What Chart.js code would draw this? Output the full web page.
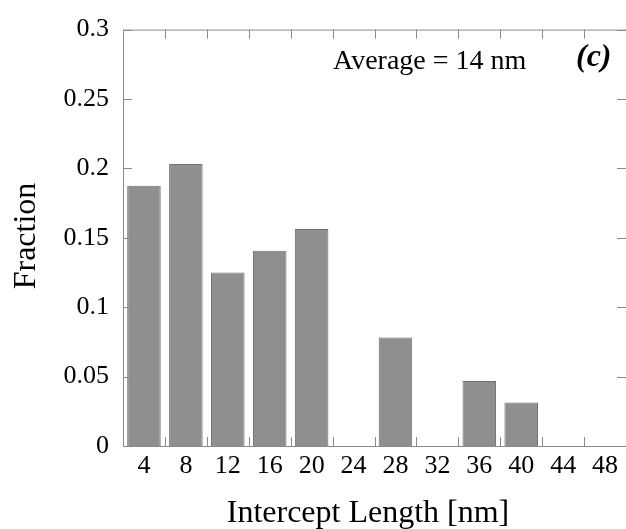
<!DOCTYPE html>
<html>
<head>
<meta charset="utf-8">
<script src="https://cdn.jsdelivr.net/npm/chart.js@4"></script>
<style>
  body { margin: 0; background: #fff; }
  #wrap { width: 626px; height: 529px; }
</style>
</head>
<body>
<div id="wrap"><canvas id="histChart" width="626" height="529"></canvas></div>
<script>
// Intercept length bins (nm) and fraction in each bin
const lengthLabels = ['4', '8', '12', '16', '20', '24', '28', '32', '36', '40', '44', '48'];
const fractions = [0.1875, 0.2031, 0.125, 0.1406, 0.1563, 0, 0.0781, 0, 0.0469, 0.0313, 0, 0];
const yTickValues = [0, 0.05, 0.1, 0.15, 0.2, 0.25, 0.3];

const serif = "'Liberation Serif', 'Times New Roman', serif";
const axisGray = '#8a8a8a';

// frame with inward ticks (the right edge sits just past the canvas), plus the text labels
const framePlugin = {
    id: 'frame',
    afterDatasetsDraw(chart) {
        const ctx = chart.ctx;
        const area = chart.chartArea;
        const x = chart.scales.x;
        const y = chart.scales.y;
        const tickLen = 9;
        ctx.save();
        ctx.strokeStyle = axisGray;
        ctx.lineWidth = 1;
        ctx.beginPath();
        // outline: top, left, bottom
        ctx.moveTo(area.left + 0.5, area.top + 0.5);
        ctx.lineTo(area.right, area.top + 0.5);
        ctx.moveTo(area.left + 0.5, area.top);
        ctx.lineTo(area.left + 0.5, area.bottom + 0.5);
        ctx.lineTo(area.right, area.bottom + 0.5);
        // x ticks at bin boundaries
        for (let i = 1; i < lengthLabels.length; i++) {
            const px = Math.round((x.getPixelForValue(i - 1) + x.getPixelForValue(i)) / 2) + 0.5;
            ctx.moveTo(px, area.bottom);
            ctx.lineTo(px, area.bottom - tickLen);
            ctx.moveTo(px, area.top);
            ctx.lineTo(px, area.top + tickLen);
        }
        // y ticks
        yTickValues.forEach(v => {
            const py = Math.round(y.getPixelForValue(v)) + 0.5;
            ctx.moveTo(area.left, py);
            ctx.lineTo(area.left + tickLen, py);
            ctx.moveTo(area.right, py);
            ctx.lineTo(area.right - tickLen, py);
        });
        ctx.stroke();

        // axis titles and annotation
        ctx.fillStyle = '#000';
        ctx.font = '32px ' + serif;
        ctx.textAlign = 'center';
        ctx.textBaseline = 'alphabetic';
        ctx.fillText('Intercept Length [nm]', 368, 522);
        ctx.save();
        ctx.translate(35, 236);
        ctx.rotate(-Math.PI / 2);
        ctx.fillText('Fraction', 0, 0);
        ctx.restore();

        ctx.textAlign = 'left';
        ctx.font = '28px ' + serif;
        ctx.fillText('Average = 14 nm', 333, 69);
        ctx.font = 'italic bold 32px ' + serif;
        ctx.fillText('(c)', 576, 66);
        ctx.restore();
    }
};

const ctx = document.getElementById('histChart').getContext('2d');
new Chart(ctx, {
    type: 'bar',
    data: {
        labels: lengthLabels,
        datasets: [{
            data: fractions,
            backgroundColor: '#8f8f8f',
            borderColor: '#6f6f6f',
            borderWidth: 1,
            borderSkipped: 'bottom',
            categoryPercentage: 1.0,
            barPercentage: 0.8
        }]
    },
    options: {
        responsive: false,
        animation: false,
        events: [],
        layout: { padding: { top: 25, right: -1, bottom: 0, left: 0 } },
        plugins: {
            legend: { display: false },
            tooltip: { enabled: false }
        },
        scales: {
            x: {
                grid: { display: false, drawTicks: false },
                border: { display: false },
                ticks: {
                    color: '#000',
                    font: { family: serif, size: 26 },
                    padding: 5,
                    maxRotation: 0,
                    autoSkip: false
                },
                afterFit(scale) { scale.height = 83; }
            },
            y: {
                min: 0,
                max: 0.3,
                grid: { display: false, drawTicks: false },
                border: { display: false },
                afterBuildTicks(scale) {
                    scale.ticks = yTickValues.map(v => ({ value: v }));
                },
                ticks: {
                    color: '#000',
                    font: { family: serif, size: 26 },
                    padding: 14,
                    callback: (v) => String(parseFloat(Number(v).toFixed(2)))
                },
                afterFit(scale) { scale.width = 123; }
            }
        }
    },
    plugins: [framePlugin]
});
</script>
</body>
</html>
